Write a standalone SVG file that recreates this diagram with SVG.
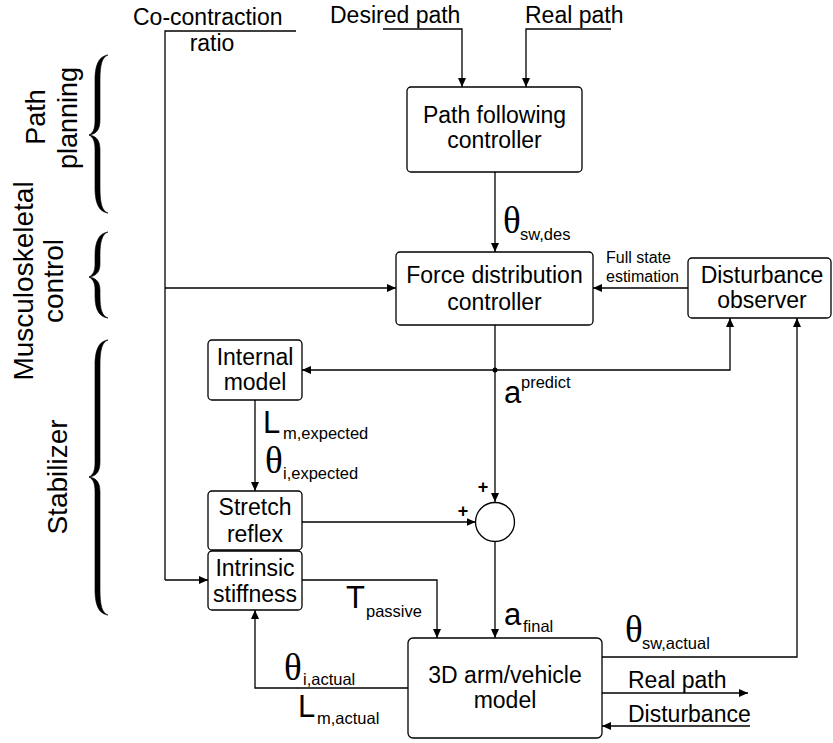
<svg xmlns="http://www.w3.org/2000/svg" width="833" height="743" viewBox="0 0 833 743">
<style>
  .box { fill: #fff; stroke: #000; stroke-width: 1.3; }
  .ln { fill: none; stroke: #000; stroke-width: 1.3; }
  .arr { marker-end: url(#ah); }
  .t { font-family: "Liberation Sans", Arial, sans-serif; font-size: 23px; fill: #000; }
  .c { text-anchor: middle; }
  .sm { font-family: "Liberation Sans", Arial, sans-serif; font-size: 16px; fill: #000; }
  .side { font-family: "Liberation Sans", Arial, sans-serif; font-size: 28px; fill: #000; text-anchor: middle; }
  .sym { font-family: "Liberation Sans", Arial, sans-serif; font-size: 31px; }
  .gr { font-family: "Liberation Serif", "Times New Roman", serif; font-size: 37px; }
  .sub { font-family: "Liberation Sans", Arial, sans-serif; font-size: 16.5px; }
  .plus { font-family: "Liberation Sans", Arial, sans-serif; font-size: 18px; font-weight: bold; text-anchor: middle; }
  .brace { fill: #000; stroke: #000; stroke-width: 0.6; }
</style>
<defs>
  <marker id="ah" markerUnits="userSpaceOnUse" markerWidth="9" markerHeight="8" viewBox="0 0 9 8" refX="9" refY="4" orient="auto">
    <path d="M0,0 L9,4 L0,8 Z" fill="#000"/>
  </marker>
</defs>
<rect width="833" height="743" fill="#fff"/>

<g id="side-labels">
  <text class="side" style="font-size:27px" transform="translate(45,117) rotate(-90)">Path</text>
  <text class="side" style="font-size:27px" transform="translate(77,118) rotate(-90)">planning</text>
  <path class="brace" d="M108,55 C100,56 95,63 95,80 L95,120 C95,129 93,133 89,135 C93,137 95,141 95,150 L95,188 C95,205 100,212 108,213 C102,211 100,203 100,188 L100,150 C100,141 97,136 89,135 C97,134 100,129 100,120 L100,80 C100,65 102,57 108,55 Z"/>
  <text class="side" transform="translate(33,281) rotate(-90)">Musculoskeletal</text>
  <text class="side" transform="translate(63,281) rotate(-90)">control</text>
  <path class="brace" d="M108,232 C100,233 95,240 95,255 L95,264 C95,271 93,275 89,277 C93,279 95,283 95,290 L95,296 C95,311 100,317 108,318 C102,316 100,309 100,296 L100,290 C100,283 97,278 89,277 C97,276 100,271 100,264 L100,255 C100,242 102,234 108,232 Z"/>
  <text class="side" transform="translate(67,477) rotate(-90)">Stabilizer</text>
  <path class="brace" d="M108,340 C100,341 95,348 95,365 L95,462 C95,471 93,475 89,477 C93,479 95,483 95,492 L95,590 C95,607 100,614 108,615 C102,613 100,605 100,590 L100,492 C100,483 97,478 89,477 C97,476 100,471 100,462 L100,365 C100,350 102,342 108,340 Z"/>
</g>

<g id="inputs">
  <text class="t" x="133" y="25">Co-contraction</text>
  <text class="t c" x="212" y="51">ratio</text>
  <text class="t" x="330" y="23">Desired path</text>
  <text class="t" x="525" y="23">Real path</text>
</g>

<g id="connectors">
  <path class="ln" d="M296,31 L165,31 L165,580"/>
  <path class="ln arr" d="M165,580 L208,580"/>
  <path class="ln arr" d="M165,288 L396,288"/>
  <path class="ln arr" d="M383,29 L462,29 L462,87"/>
  <path class="ln arr" d="M611,29 L526,29 L526,87"/>
  <path class="ln arr" d="M495,172 L495,252"/>
  <path class="ln arr" d="M688,288 L593,288"/>
  <path class="ln arr" d="M495,325 L495,502"/>
  <path class="ln arr" d="M495,370 L302,370"/>
  <path class="ln arr" d="M495,370 L730,370 L730,318"/>
  <circle cx="495" cy="370" r="2.5" fill="#000"/>
  <path class="ln arr" d="M255,400 L255,491"/>
  <path class="ln arr" d="M302,522 L475.5,522"/>
  <path class="ln arr" d="M495,541.5 L495,638"/>
  <path class="ln arr" d="M302,580 L437,580 L437,638"/>
  <path class="ln arr" d="M408,688 L255,688 L255,610"/>
  <path class="ln arr" d="M602,657 L797,657 L797,318"/>
  <path class="ln arr" d="M602,693 L748,693"/>
  <path class="ln arr" d="M750,726 L602,726"/>
</g>

<g id="path-following">
  <rect class="box" x="407" y="87" width="175" height="85" rx="4"/>
  <text class="t c" x="494.5" y="123">Path following</text>
  <text class="t c" x="494.5" y="148">controller</text>
</g>

<g id="force-distribution">
  <rect class="box" x="396" y="252" width="197" height="73" rx="4"/>
  <text class="t c" x="494.5" y="283">Force distribution</text>
  <text class="t c" x="494.5" y="310">controller</text>
</g>

<g id="disturbance-observer">
  <rect class="box" x="688" y="258" width="143" height="60" rx="4"/>
  <text class="t c" x="762" y="283">Disturbance</text>
  <text class="t c" x="762" y="308">observer</text>
</g>

<g id="internal-model">
  <rect class="box" x="208" y="340" width="94" height="60" rx="4"/>
  <text class="t c" x="255" y="365">Internal</text>
  <text class="t c" x="255" y="390">model</text>
</g>

<g id="stretch-reflex">
  <rect class="box" x="208" y="491" width="94" height="59" rx="4"/>
  <text class="t c" x="255" y="515">Stretch</text>
  <text class="t c" x="255" y="542">reflex</text>
</g>

<g id="intrinsic-stiffness">
  <rect class="box" x="208" y="551" width="94" height="59" rx="4"/>
  <text class="t c" x="255" y="576">Intrinsic</text>
  <text class="t c" x="255" y="602">stiffness</text>
</g>

<g id="sum">
  <circle class="box" cx="495" cy="522" r="19.5"/>
  <text class="plus" x="483" y="493">+</text>
  <text class="plus" x="463" y="517">+</text>
</g>

<g id="arm-model">
  <rect class="box" x="408" y="638" width="194" height="100" rx="5"/>
  <text class="t c" x="505" y="683">3D arm/vehicle</text>
  <text class="t c" x="505" y="708">model</text>
</g>

<g id="labels">
  <text class="sm" x="606" y="263">Full state</text>
  <text class="sm" x="606" y="282">estimation</text>
  <text><tspan class="gr" x="503" y="233">θ</tspan><tspan class="sub" x="520" y="240">sw,des</tspan></text>
  <text><tspan class="sym" x="504" y="403">a</tspan><tspan class="sub" x="521" y="388">predict</tspan></text>
  <text><tspan class="sym" x="263" y="433">L</tspan><tspan class="sub" x="283" y="439">m,expected</tspan></text>
  <text><tspan class="gr" x="265" y="473">θ</tspan><tspan class="sub" x="283" y="479">i,expected</tspan></text>
  <text><tspan class="sym" x="346" y="608">T</tspan><tspan class="sub" x="366" y="617">passive</tspan></text>
  <text><tspan class="sym" x="504" y="625">a</tspan><tspan class="sub" x="523" y="632">final</tspan></text>
  <text><tspan class="gr" x="625" y="642">θ</tspan><tspan class="sub" x="642" y="649">sw,actual</tspan></text>
  <text><tspan class="gr" x="284" y="680">θ</tspan><tspan class="sub" x="303" y="685">i,actual</tspan></text>
  <text><tspan class="sym" x="298" y="717">L</tspan><tspan class="sub" x="317" y="724">m,actual</tspan></text>
  <text class="t" x="628" y="688">Real path</text>
  <text class="t" x="628" y="722">Disturbance</text>
</g>
</svg>
